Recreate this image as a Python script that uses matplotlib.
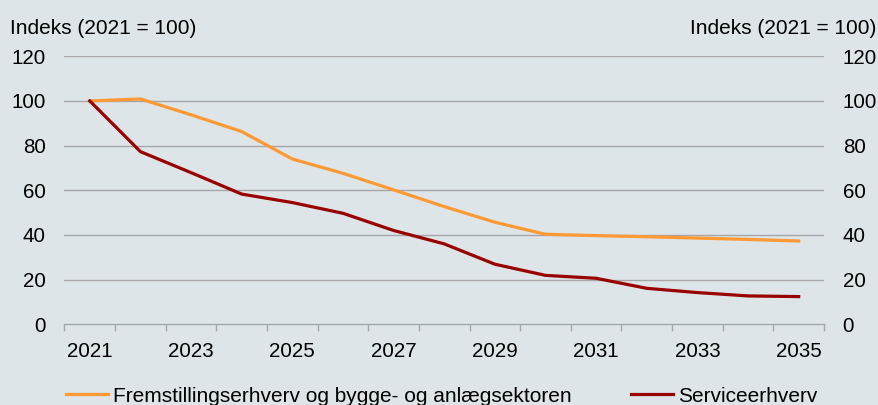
import matplotlib
matplotlib.use("Agg")
import matplotlib.pyplot as plt
import numpy as np

years = list(range(2021, 2036))
tick_labels = ["2021", "2023", "2025", "2027", "2029", "2031", "2033", "2035"]
fremstilling = [100, 100.9, 93.8, 86.3, 74.0, 67.6, 60.2, 52.7, 45.7, 40.3, 39.7, 39.2, 38.6, 38.0, 37.3]
service = [100, 77.3, 67.9, 58.3, 54.5, 49.7, 42.0, 36.0, 26.9, 21.9, 20.6, 16.1, 14.2, 12.7, 12.4]
series_names = ["Fremstillingserhverv og bygge- og anlægsektoren", "Serviceerhverv"]
yticks = [0, 20, 40, 60, 80, 100, 120]
axis_label = "Indeks (2021 = 100)"

bg = "#dde5e8"
orange = "#ff9933"
red = "#990000"
grid = "#a6a6a6"

plt.rcParams['font.family'] = ['Liberation Sans', 'DejaVu Sans']
plt.rcParams['font.size'] = 15

fig = plt.figure(figsize=(8.79, 4.05), dpi=100, facecolor=bg)
ax = fig.add_axes([64.5/879, 0.1993, (824-64.5)/879, 0.861-0.1993])
ax.set_facecolor(bg)

x = np.arange(len(years))
l1, = ax.plot(x, fremstilling, color=orange, lw=2.3, solid_joinstyle='round', zorder=3)
l2, = ax.plot(x, service, color=red, lw=2.3, solid_joinstyle='round', zorder=3)

ax.set_xlim(-0.5, len(years) - 0.5)
ax.set_ylim(0, 120)
ax.set_yticks(yticks)
ax.set_yticklabels([str(v) for v in yticks])
ax.tick_params(axis='y', length=0, pad=13.5, labelsize=14.8, left=True, right=True, labelleft=True, labelright=True)
for yv in yticks[1:]:
    ax.axhline(yv, color=grid, lw=1.0, zorder=1)

major_pos = [years.index(int(t)) for t in tick_labels]
ax.set_xticks(major_pos)
ax.set_xticklabels(tick_labels)
ax.set_xticks(np.arange(-0.5, len(years)), minor=True)
ax.tick_params(axis='x', which='major', length=0, pad=12.5, labelsize=14.8)
ax.tick_params(axis='x', which='minor', length=5, width=1.0, color=grid, direction='out')

for s in ['top', 'left', 'right']:
    ax.spines[s].set_visible(False)
ax.spines['bottom'].set_color(grid)
ax.spines['bottom'].set_linewidth(1.0)

fig.text(10/879, 1 - 28/405, axis_label, ha='left', va='center', fontsize=15)
fig.text(876/879, 1 - 28/405, axis_label, ha='right', va='center', fontsize=15)

fig.legend([l1, l2], series_names, loc='center left', bbox_to_anchor=(66/879, 9/405),
           ncol=2, frameon=False, borderpad=0, borderaxespad=0, handlelength=2.0,
           handletextpad=0.25, columnspacing=2.85, fontsize=15)

fig.savefig("out.png", dpi=100, facecolor=bg)
